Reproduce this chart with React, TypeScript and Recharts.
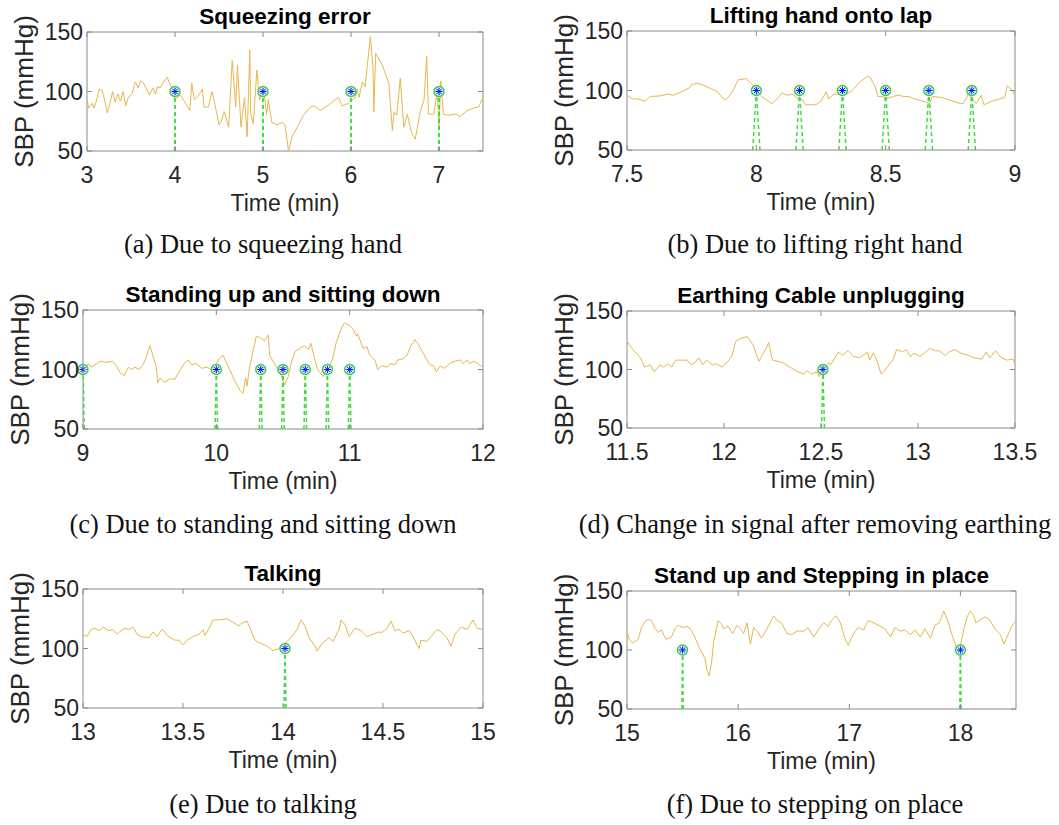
import React from "react";
import {
  LineChart,
  Line,
  XAxis,
  YAxis,
  ReferenceArea,
  ReferenceLine,
  ReferenceDot,
} from "recharts";

// (a) squeezing hand
const squeezeTime = [
  3.0, 3.02, 3.06, 3.08, 3.11, 3.14, 3.17, 3.2, 3.23, 3.27, 3.29, 3.32, 3.35, 3.38, 3.41, 3.44, 3.47, 3.51, 3.55, 3.58,
  3.61, 3.64, 3.67, 3.71, 3.75, 3.78, 3.8, 3.83, 3.87, 3.91, 3.95, 3.98, 4.0, 4.06, 4.12, 4.17, 4.19, 4.22, 4.27, 4.31,
  4.33, 4.38, 4.42, 4.46, 4.5, 4.52, 4.56, 4.61, 4.65, 4.69, 4.71, 4.75, 4.79, 4.82, 4.85, 4.86, 4.89, 4.93, 4.96, 5.01,
  5.04, 5.06, 5.1, 5.16, 5.22, 5.25, 5.29, 5.33, 5.39, 5.46, 5.54, 5.58, 5.65, 5.71, 5.77, 5.82, 5.86, 5.9, 5.94, 5.97,
  6.01, 6.05, 6.07, 6.09, 6.13, 6.16, 6.22, 6.25, 6.26, 6.28, 6.35, 6.43, 6.47, 6.49, 6.52, 6.56, 6.6, 6.64, 6.69, 6.73,
  6.79, 6.83, 6.86, 6.88, 6.94, 6.98, 7.0, 7.02, 7.05, 7.11, 7.19, 7.24, 7.32, 7.39, 7.45, 7.5,
];
const squeezeSbp = [
  93, 86, 90, 86, 93, 102, 101, 93, 82, 93, 100, 91, 98, 92, 100, 88, 95, 98, 108, 103,
  109, 107, 103, 97, 103, 98, 104, 103, 108, 112, 105, 100, 93, 97, 90, 84, 107, 93, 97, 102,
  87, 87, 100, 87, 72, 74, 83, 70, 126, 87, 122, 70, 95, 62, 135, 81, 73, 118, 93, 100,
  81, 93, 74, 72, 74, 72, 50, 62, 70, 80, 87, 88, 84, 87, 90, 93, 95, 88, 89, 90,
  93, 95, 102, 95, 108, 104, 146, 120, 83, 132, 123, 107, 67, 83, 80, 111, 70, 81, 65, 60,
  84, 93, 130, 81, 81, 100, 70, 109, 81, 80, 81, 79, 84, 86, 87, 95,
];
const squeezeEvents = [4, 5, 6, 7];
const squeezeTicks = [3, 4, 5, 6, 7];

// (b) lifting right hand
const lapTime = [
  7.5, 7.52, 7.54, 7.57, 7.59, 7.63, 7.66, 7.68, 7.7, 7.72, 7.74, 7.75, 7.77, 7.79, 7.82, 7.85, 7.86, 7.88, 7.89, 7.91,
  7.93, 7.96, 7.98, 8.0, 8.02, 8.04, 8.06, 8.08, 8.1, 8.12, 8.14, 8.16, 8.18, 8.19, 8.23, 8.25, 8.27, 8.28, 8.3, 8.33,
  8.35, 8.37, 8.4, 8.43, 8.44, 8.46, 8.47, 8.49, 8.5, 8.53, 8.55, 8.57, 8.59, 8.61, 8.63, 8.67, 8.68, 8.72, 8.76, 8.79,
  8.8, 8.82, 8.85, 8.87, 8.88, 8.91, 8.94, 8.96, 8.97, 8.99, 9.0,
];
const lapSbp = [
  96, 93, 93, 91, 95, 95.5, 97, 96, 98, 100, 102, 105, 106, 105, 102, 99, 96, 92, 94, 100,
  109, 110, 106, 100, 95, 92, 89, 93, 98, 96, 97, 93, 92, 88, 88, 91, 99, 93, 97, 97,
  97, 100, 107, 112, 111, 103, 95, 95, 93, 95, 96, 95, 95, 93, 92, 89, 95, 94, 91, 89,
  89, 97, 89, 96, 88, 91, 93, 94, 104, 100, 96,
];
const lapEvents = [8, 8.167, 8.333, 8.5, 8.667, 8.833];
const lapTicks = [7.5, 8, 8.5, 9];

// (c) standing and sitting down
const standTime = [
  9.0, 9.02, 9.04, 9.06, 9.09, 9.13, 9.18, 9.22, 9.25, 9.28, 9.31, 9.34, 9.36, 9.39, 9.42, 9.45, 9.48, 9.5, 9.51, 9.55,
  9.56, 9.58, 9.61, 9.65, 9.69, 9.73, 9.76, 9.79, 9.81, 9.85, 9.89, 9.93, 9.96, 10.0, 10.02, 10.05, 10.07, 10.1, 10.14, 10.18,
  10.2, 10.22, 10.23, 10.25, 10.28, 10.3, 10.34, 10.36, 10.39, 10.4, 10.44, 10.48, 10.51, 10.54, 10.56, 10.59, 10.63, 10.66, 10.69, 10.71,
  10.73, 10.76, 10.8, 10.84, 10.87, 10.9, 10.94, 10.96, 11.0, 11.03, 11.05, 11.06, 11.08, 11.1, 11.13, 11.15, 11.19, 11.21, 11.24, 11.28,
  11.31, 11.34, 11.36, 11.4, 11.43, 11.46, 11.49, 11.51, 11.55, 11.6, 11.63, 11.65, 11.68, 11.71, 11.75, 11.79, 11.83, 11.85, 11.88, 11.9,
  11.93, 11.96, 12.0,
];
const standSbp = [
  94, 101, 105, 102, 104, 107, 106, 107, 103, 97, 95, 102, 100, 102, 100, 104, 112, 120, 117, 102,
  89, 93, 89, 92, 92, 100, 105, 108, 104, 105, 101, 102, 100, 105, 109, 112, 107, 100, 90, 82,
  80, 93, 86, 102, 118, 128, 126, 124, 129, 112, 104, 97, 87, 94, 105, 115, 118, 120, 117, 122,
  112, 100, 94, 101, 108, 123, 135, 139, 137, 133, 128, 130, 124, 118, 119, 112, 108, 100, 103, 102,
  105, 104, 108, 109, 112, 120, 125, 122, 114, 104, 103, 98, 103, 101, 105, 107, 108, 105, 108, 105,
  107, 105, 102,
];
const standEvents = [9, 10, 10.333, 10.5, 10.667, 10.833, 11];
const standTicks = [9, 10, 11, 12];

// (d) earthing cable removed
const earthTime = [
  11.5, 11.53, 11.57, 11.59, 11.62, 11.64, 11.67, 11.69, 11.71, 11.73, 11.75, 11.81, 11.83, 11.85, 11.87, 11.89, 11.91, 11.94, 11.96, 11.99,
  12.01, 12.04, 12.06, 12.09, 12.12, 12.15, 12.18, 12.19, 12.22, 12.23, 12.25, 12.3, 12.32, 12.37, 12.41, 12.43, 12.45, 12.48, 12.49, 12.52,
  12.54, 12.55, 12.59, 12.61, 12.64, 12.67, 12.7, 12.74, 12.75, 12.77, 12.79, 12.81, 12.83, 12.85, 12.87, 12.89, 12.92, 12.94, 12.96, 12.98,
  13.01, 13.04, 13.06, 13.09, 13.11, 13.14, 13.16, 13.19, 13.22, 13.26, 13.29, 13.33, 13.35, 13.37, 13.4, 13.43, 13.46, 13.49, 13.5,
];
const earthSbp = [
  124, 117, 110, 102, 104, 98, 104, 102, 105, 102, 108, 108, 104, 106, 110, 104, 108, 104, 105, 102,
  105, 111, 124, 127, 128, 121, 107, 110, 119, 123, 108, 106, 104, 99, 96, 99, 96, 98, 94, 102,
  106, 104, 115, 112, 116, 111, 110, 115, 108, 114, 107, 96, 99, 104, 108, 117, 115, 117, 111, 114,
  111, 115, 118, 116, 116, 112, 115, 117, 114, 112, 110, 109, 115, 110, 116, 110, 108, 109, 104,
];
const earthEvents = [12.51];
const earthTicks = [11.5, 12, 12.5, 13, 13.5];

// (e) talking
const talkTime = [
  13.0, 13.02, 13.04, 13.06, 13.08, 13.1, 13.12, 13.13, 13.15, 13.17, 13.19, 13.21, 13.23, 13.25, 13.27, 13.29, 13.33, 13.35, 13.37, 13.39,
  13.4, 13.42, 13.44, 13.46, 13.48, 13.5, 13.52, 13.55, 13.58, 13.6, 13.61, 13.63, 13.65, 13.68, 13.72, 13.75, 13.78, 13.79, 13.82, 13.83,
  13.86, 13.88, 13.92, 13.95, 13.98, 13.99, 14.02, 14.04, 14.07, 14.09, 14.11, 14.13, 14.16, 14.17, 14.2, 14.23, 14.25, 14.28, 14.29, 14.31,
  14.33, 14.36, 14.39, 14.42, 14.45, 14.48, 14.49, 14.52, 14.54, 14.56, 14.58, 14.6, 14.63, 14.65, 14.68, 14.69, 14.72, 14.74, 14.77, 14.79,
  14.82, 14.84, 14.86, 14.89, 14.92, 14.95, 14.97, 15.0,
];
const talkSbp = [
  112, 110, 116, 117, 115, 118, 116, 115, 116, 112, 115, 117, 116, 118, 112, 110, 109, 114, 110, 115,
  116, 111, 109, 107, 107, 103, 107, 110, 112, 116, 111, 117, 124, 124, 125, 122, 119, 121, 123, 119,
  107, 105, 102, 98, 100, 102, 106, 109, 116, 124, 119, 109, 102, 98, 105, 109, 106, 116, 124, 120,
  110, 117, 115, 110, 112, 114, 113, 117, 123, 115, 116, 113, 115, 110, 100, 107, 106, 110, 116, 114,
  109, 102, 112, 118, 116, 124, 117, 116,
];
const talkEvents = [14.01];
const talkTicks = [13, 13.5, 14, 14.5, 15];

// (f) stepping on place
const stepTime = [
  15.0, 15.02, 15.05, 15.1, 15.13, 15.16, 15.19, 15.22, 15.25, 15.28, 15.31, 15.35, 15.4, 15.43, 15.46, 15.5, 15.54, 15.57, 15.61, 15.65,
  15.7, 15.72, 15.74, 15.76, 15.78, 15.82, 15.85, 15.87, 15.91, 15.95, 15.99, 16.02, 16.05, 16.08, 16.11, 16.14, 16.18, 16.21, 16.26, 16.32,
  16.35, 16.39, 16.44, 16.48, 16.53, 16.59, 16.63, 16.68, 16.72, 16.77, 16.81, 16.84, 16.88, 16.92, 16.96, 16.99, 17.04, 17.08, 17.13, 17.17,
  17.22, 17.28, 17.32, 17.37, 17.41, 17.46, 17.5, 17.55, 17.59, 17.64, 17.68, 17.73, 17.77, 17.81, 17.85, 17.89, 17.93, 17.97, 18.0, 18.03,
  18.06, 18.09, 18.12, 18.14, 18.17, 18.22, 18.26, 18.31, 18.36, 18.39, 18.42, 18.46, 18.5,
];
const stepSbp = [
  116, 109, 106, 109, 119, 124, 126, 125, 119, 115, 117, 109, 111, 118, 121, 119, 120, 118, 111, 102,
  93, 83, 78, 89, 107, 125, 122, 118, 120, 114, 121, 118, 114, 123, 105, 119, 115, 110, 118, 129,
  125, 123, 114, 113, 116, 116, 119, 111, 117, 123, 120, 125, 129, 123, 110, 104, 114, 119, 117, 125,
  123, 120, 118, 111, 119, 116, 117, 113, 117, 111, 118, 110, 121, 123, 133, 124, 111, 101, 104, 117,
  128, 133, 129, 123, 125, 128, 126, 118, 113, 105, 111, 120, 125,
];
const stepEvents = [15.5, 18];
const stepTicks = [15, 16, 17, 18];

const sbpTicks = [50, 100, 150];
const eventLevel = 100;

const SANS = "'Liberation Sans', Arial, sans-serif";
const SERIF = "'Liberation Serif', 'Times New Roman', serif";
const TEXT = "#262626";
const BOX = "#8a8a8a";
const TRACE = "#E8B64C";
const EVENT = "#3ddc3d";

// margins around each plot box (room for tick labels)
const ML = 80;
const MT = 22;
const MR = 30;
const MB = 45;

type Rect = { x: number; y: number; w: number; h: number };

const EventMarker = (props: any) => {
  const { cx, cy } = props;
  const s = 3.6;
  const d = s * 0.707;
  return (
    <g>
      <circle cx={cx} cy={cy} r={5} fill="#d6f5e6" stroke="#35c95a" strokeWidth={1.4} />
      <line x1={cx - s} y1={cy} x2={cx + s} y2={cy} stroke="#1010ff" strokeWidth={1} />
      <line x1={cx} y1={cy - s} x2={cx} y2={cy + s} stroke="#1010ff" strokeWidth={1} />
      <line x1={cx - d} y1={cy - d} x2={cx + d} y2={cy + d} stroke="#1010ff" strokeWidth={1} />
      <line x1={cx - d} y1={cy + d} x2={cx + d} y2={cy - d} stroke="#1010ff" strokeWidth={1} />
    </g>
  );
};

function Panel({
  plot,
  time,
  sbp,
  domain,
  ticks,
  events,
  spread,
}: {
  plot: Rect;
  time: number[];
  sbp: number[];
  domain: [number, number];
  ticks: number[];
  events: number[];
  spread: number;
}) {
  const rows = time.map((t, i) => ({ t, sbp: sbp[i] }));

  const XTick = (p: any) => {
    const { x, y, payload } = p;
    return (
      <g>
        <line x1={x} y1={y} x2={x} y2={y - 5} stroke={BOX} />
        <line x1={x} y1={y - plot.h} x2={x} y2={y - plot.h + 5} stroke={BOX} />
        <text x={x} y={y + 32} textAnchor="middle" fontFamily={SANS} fontSize={23} fill={TEXT}>
          {String(payload.value)}
        </text>
      </g>
    );
  };

  const YTick = (p: any) => {
    const { x, y, payload } = p;
    return (
      <g>
        <line x1={x} y1={y} x2={x + 5} y2={y} stroke={BOX} />
        <line x1={x + plot.w} y1={y} x2={x + plot.w - 5} y2={y} stroke={BOX} />
        <text x={x - 4} y={y + 8} textAnchor="end" fontFamily={SANS} fontSize={23} fill={TEXT}>
          {String(payload.value)}
        </text>
      </g>
    );
  };

  // axes take 1px each (a zero-size axis draws no ticks)
  return (
    <div style={{ position: "absolute", left: plot.x - ML, top: plot.y - MT }}>
      <LineChart
        width={plot.w + ML + MR}
        height={plot.h + MT + MB}
        data={rows}
        margin={{ top: MT, right: MR, bottom: MB - 1, left: ML - 1 }}
      >
        <XAxis
          type="number"
          dataKey="t"
          domain={domain}
          ticks={ticks}
          interval={0}
          allowDataOverflow
          height={1}
          tickSize={0}
          tickMargin={0}
          axisLine={false}
          tickLine={false}
          tick={XTick}
        />
        <YAxis
          type="number"
          domain={[50, 150]}
          ticks={sbpTicks}
          interval={0}
          allowDataOverflow
          width={1}
          tickSize={0}
          tickMargin={0}
          axisLine={false}
          tickLine={false}
          tick={YTick}
        />
        <ReferenceArea
          x1={domain[0]}
          x2={domain[1]}
          y1={50}
          y2={150}
          fill="none"
          stroke={BOX}
          strokeWidth={1}
        />
        <Line
          type="linear"
          dataKey="sbp"
          stroke={TRACE}
          strokeWidth={1}
          dot={false}
          isAnimationActive={false}
        />
        {events.map((t) => (
          <ReferenceLine
            key={`l-${t}`}
            segment={[
              { x: t - spread, y: 50 },
              { x: t, y: eventLevel },
            ]}
            stroke={EVENT}
            strokeWidth={1.5}
            strokeDasharray="4 3"
            ifOverflow="hidden"
          />
        ))}
        {events.map((t) => (
          <ReferenceLine
            key={`r-${t}`}
            segment={[
              { x: t + spread, y: 50 },
              { x: t, y: eventLevel },
            ]}
            stroke={EVENT}
            strokeWidth={1.5}
            strokeDasharray="4 3"
            ifOverflow="hidden"
          />
        ))}
        {events.map((t) => (
          <ReferenceDot key={`d-${t}`} x={t} y={eventLevel} r={5} shape={EventMarker} />
        ))}
      </LineChart>
    </div>
  );
}

const panels = [
  {
    plot: { x: 87, y: 32, w: 396, h: 119 },
    title: "Squeezing error",
    caption: "(a) Due to squeezing hand",
    time: squeezeTime, sbp: squeezeSbp, domain: [3, 7.5] as [number, number],
    ticks: squeezeTicks, events: squeezeEvents, spread: 0.004,
  },
  {
    plot: { x: 627, y: 31, w: 388, h: 119 },
    title: "Lifting hand onto lap",
    caption: "(b) Due to lifting right hand",
    time: lapTime, sbp: lapSbp, domain: [7.5, 9] as [number, number],
    ticks: lapTicks, events: lapEvents, spread: 0.014,
  },
  {
    plot: { x: 83, y: 310, w: 400, h: 119 },
    title: "Standing up and sitting down",
    caption: "(c) Due to standing and sitting down",
    time: standTime, sbp: standSbp, domain: [9, 12] as [number, number],
    ticks: standTicks, events: standEvents, spread: 0.01,
  },
  {
    plot: { x: 627, y: 311, w: 388, h: 117 },
    title: "Earthing Cable unplugging",
    caption: "(d) Change in signal after removing earthing",
    time: earthTime, sbp: earthSbp, domain: [11.5, 13.5] as [number, number],
    ticks: earthTicks, events: earthEvents, spread: 0.008,
  },
  {
    plot: { x: 83, y: 589, w: 400, h: 119 },
    title: "Talking",
    caption: "(e) Due to talking",
    time: talkTime, sbp: talkSbp, domain: [13, 15] as [number, number],
    ticks: talkTicks, events: talkEvents, spread: 0.005,
  },
  {
    plot: { x: 627, y: 591, w: 389, h: 118 },
    title: "Stand up and Stepping in place",
    caption: "(f) Due to stepping on place",
    time: stepTime, sbp: stepSbp, domain: [15, 18.5] as [number, number],
    ticks: stepTicks, events: stepEvents, spread: 0.006,
  },
];

const captionBaselines = [253, 253, 533, 533, 813, 813];
const captionCenters = [263, 815, 263, 815, 263, 815];

export default function App() {
  return (
    <div
      style={{
        position: "absolute",
        left: 0,
        top: 0,
        width: 1059,
        height: 825,
        background: "#ffffff",
        overflow: "hidden",
      }}
    >
      {panels.map((p) => (
        <Panel
          key={p.title}
          plot={p.plot}
          time={p.time}
          sbp={p.sbp}
          domain={p.domain}
          ticks={p.ticks}
          events={p.events}
          spread={p.spread}
        />
      ))}
      <svg
        width={1059}
        height={825}
        style={{ position: "absolute", left: 0, top: 0, pointerEvents: "none" }}
      >
        {panels.map((p, i) => {
          const cx = p.plot.x + p.plot.w / 2;
          const cy = p.plot.y + p.plot.h / 2;
          const lx = p.plot.x - 54;
          return (
            <g key={p.title}>
              <text x={cx} y={p.plot.y - 8} textAnchor="middle" fontFamily={SANS} fontWeight="bold" fontSize={22.5} fill="#000">
                {p.title}
              </text>
              <text x={cx} y={p.plot.y + p.plot.h + 60} textAnchor="middle" fontFamily={SANS} fontSize={23} fill={TEXT}>
                Time (min)
              </text>
              <text
                x={lx}
                y={cy}
                textAnchor="middle"
                fontFamily={SANS}
                fontSize={26}
                fill={TEXT}
                transform={`rotate(-90 ${lx} ${cy})`}
              >
                SBP (mmHg)
              </text>
              <text x={captionCenters[i]} y={captionBaselines[i]} textAnchor="middle" fontFamily={SERIF} fontSize={26.5} fill="#111">
                {p.caption}
              </text>
            </g>
          );
        })}
      </svg>
    </div>
  );
}
